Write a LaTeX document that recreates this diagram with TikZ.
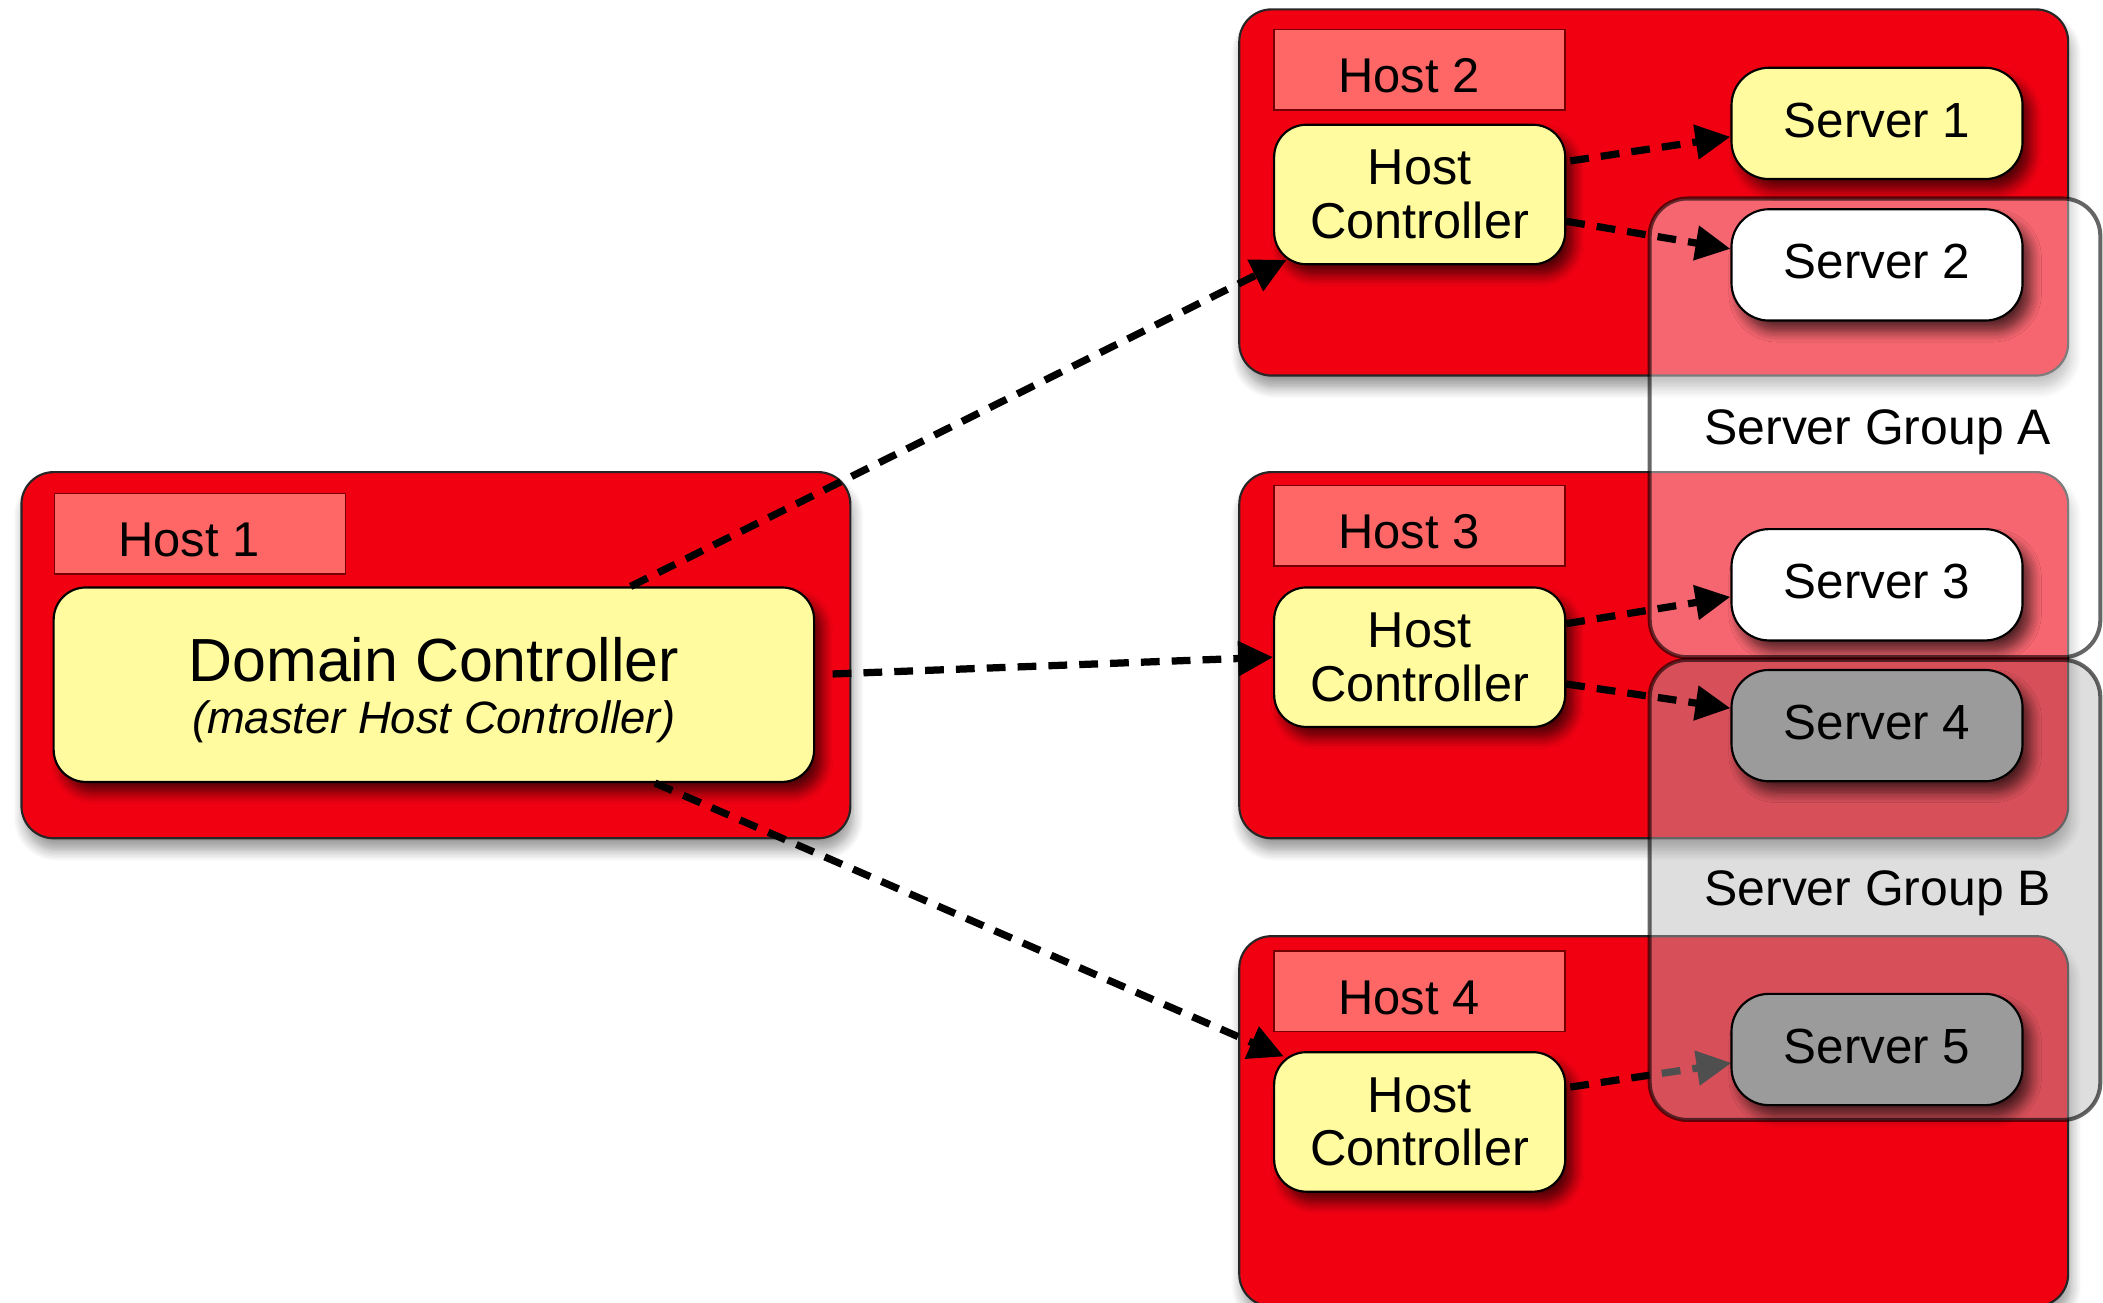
\documentclass[tikz,border=0pt]{standalone}
\usepackage{fontspec}
\setmainfont{Liberation Sans}
\usetikzlibrary{arrows.meta,calc,shadows.blur}

\definecolor{hostred}{HTML}{F10012}
\definecolor{labelred}{HTML}{FF6666}
\definecolor{hcyellow}{HTML}{FFFB9E}
\definecolor{srvgray}{HTML}{9B9B9B}
\definecolor{grpfill}{HTML}{B4B4B4}

\tikzset{
  shad/.style={blur shadow={shadow xshift=3pt, shadow yshift=-4pt, shadow opacity=65, shadow blur steps=8, shadow blur radius=4pt}},
  hostbox/.style={draw=black!85, line width=0.8pt, fill=hostred, rounded corners=12pt,
    minimum width=309pt, minimum height=136.5pt, inner sep=0pt,
    blur shadow={shadow xshift=1pt, shadow yshift=-4.5pt, shadow opacity=40, shadow blur steps=8, shadow blur radius=4pt}},
  hostlabel/.style={draw=red!45!black, line width=0.6pt, fill=labelred, minimum width=108.5pt,
    minimum height=30pt, inner sep=0pt, text height=17.1pt, text depth=0pt,
    font=\fontsize{18.2}{20}\selectfont},
  ctrl/.style={draw=black, line width=0.8pt, fill=hcyellow, rounded corners=12pt,
    minimum width=108.5pt, minimum height=52pt, inner sep=0pt, align=center,
    font=\fontsize{18.8}{20}\selectfont, shad},
  server/.style={draw=black, line width=0.8pt, rounded corners=14pt, minimum width=108.5pt,
    minimum height=41.5pt, inner sep=0pt, text depth=2.5pt,
    font=\fontsize{18.4}{20}\selectfont, shad},
  grp/.style={draw=black, draw opacity=0.6, line width=1.5pt, rounded corners=14pt,
    minimum width=168pt, inner sep=0pt},
  grouplabel/.style={font=\fontsize{18.6}{20}\selectfont, inner sep=0pt},
  conn/.style={draw=black, line width=2.7pt, dash pattern=on 7pt off 4.5pt,
    -{Triangle[length=13pt,width=12.5pt]}},
}

\begin{document}
\begin{tikzpicture}[x=0.5pt,y=-0.5pt]
\useasboundingbox (0,0) rectangle (1568,971);

% host boxes
\node[hostbox] (h1) at (325,488.5) {};
\node[hostbox] (h2) at (1233,143.5) {};
\node[hostbox] (h3) at (1233,488.5) {};
\node[hostbox, minimum height=138pt] (h4) at (1233,836) {};

% host labels
\node[hostlabel] (l1) at (149,398) {Host 1\hspace*{8pt}};
\node[hostlabel] (l2) at (1058.5,52) {Host 2\hspace*{8pt}};
\node[hostlabel] (l3) at (1058.5,392) {Host 3\hspace*{8pt}};
\node[hostlabel] (l4) at (1058.5,739) {Host 4\hspace*{8pt}};

% controllers
\node[ctrl, minimum width=283.5pt, minimum height=72.5pt, font=\fontsize{22.7}{19.5}\selectfont] (dc) at (323.5,510.5)
  {\rule{0pt}{20.6pt}Domain Controller\\{\fontsize{16.9}{19.5}\selectfont\itshape (master Host Controller)}};
\node[ctrl] (hc2) at (1058.5,145) {Host\\Controller};
\node[ctrl] (hc3) at (1058.5,490) {Host\\Controller};
\node[ctrl] (hc4) at (1058.5,836.5) {Host\\Controller};

% arrows from domain controller
\draw[conn] ($(dc.north west)!0.758!(dc.north east)$) -- ([xshift=5pt,yshift=2pt]hc2.south west);
\draw[conn] ([xshift=6.5pt,yshift=4pt]dc.east) -- (hc3.west);
\draw[conn] ($(dc.south west)!0.79!(dc.south east)$) -- ([xshift=4pt,yshift=-2pt]hc4.north west);

% arrow to server 5 (drawn beneath group B)
\coordinate (s5w) at (1291,782.5);
\draw[conn] ([xshift=1.5pt,yshift=13pt]hc4.east) -- ([yshift=-5pt]s5w);

% server groups
\node[grp, fill=white, fill opacity=0.4, minimum height=171pt] (ga) at (1398,319) {};
\node[grp, fill=grpfill, fill opacity=0.44, minimum height=171.5pt] (gb) at (1398,663.5) {};
\node[grouplabel] (gla) at (1400,322) {Server Group A};
\node[grouplabel] (glb) at (1400,666) {Server Group B};

% servers
\node[server, fill=hcyellow] (s1) at (1399.5,92) {Server 1};
\node[server, fill=white] (s2) at (1399.5,197.5) {Server 2};
\node[server, fill=white] (s3) at (1399.5,436) {Server 3};
\node[server, fill=srvgray] (s4) at (1399.5,541) {Server 4};
\node[server, fill=srvgray] (s5) at (1399.5,782.5) {Server 5};

% arrows from host controllers
\draw[conn] ([xshift=1.5pt,yshift=12.5pt]hc2.east) -- ([yshift=-5pt]s1.west);
\draw[conn] ([yshift=-10pt]hc2.east) -- ([yshift=6pt]s2.west);
\draw[conn] ([yshift=12.5pt]hc3.east) -- ([yshift=-4.5pt]s3.west);
\draw[conn] ([yshift=-10pt]hc3.east) -- ([yshift=6.5pt]s4.west);
\end{tikzpicture}
\end{document}
